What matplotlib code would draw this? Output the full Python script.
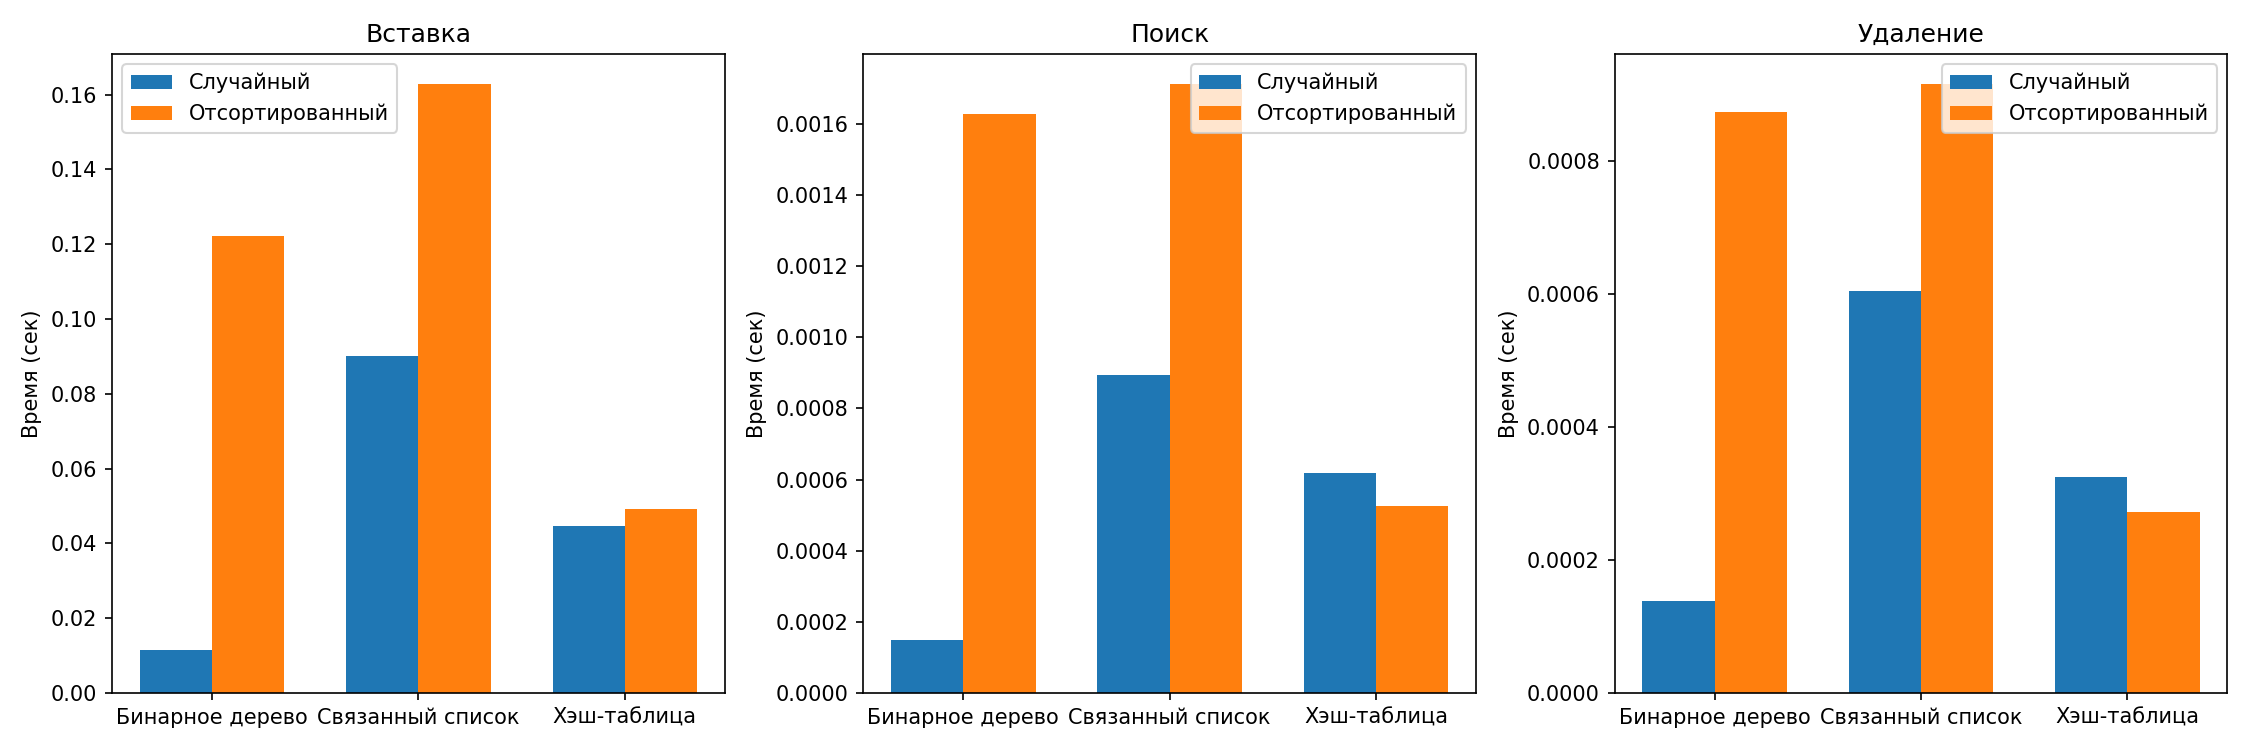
import numpy as np
import matplotlib
matplotlib.use("Agg")
import matplotlib.pyplot as plt

# Структуры данных и операции
structures = ["Бинарное дерево", "Связанный список", "Хэш-таблица"]
operations = ["Вставка", "Поиск", "Удаление"]

# Время (сек) для случайных данных
insert_random = [0.0115, 0.0900, 0.0445]
search_random = [0.000150, 0.000895, 0.000619]
delete_random = [0.000138, 0.000605, 0.000325]

# Время (сек) для отсортированных данных
insert_sorted = [0.1223, 0.1627, 0.0492]
search_sorted = [0.001629, 0.001711, 0.000526]
delete_sorted = [0.000874, 0.000916, 0.000272]

random_times = [insert_random, search_random, delete_random]
sorted_times = [insert_sorted, search_sorted, delete_sorted]

x = np.arange(len(structures))
width = 0.35

fig, axes = plt.subplots(1, 3, figsize=(15, 5), dpi=150)

for ax, op, rnd, srt in zip(axes, operations, random_times, sorted_times):
    ax.bar(x - width / 2, rnd, width, label="Случайный")
    ax.bar(x + width / 2, srt, width, label="Отсортированный")
    ax.set_title(op)
    ax.set_ylabel("Время (сек)")
    ax.set_xticks(x)
    ax.set_xticklabels(structures)
    ax.legend()

plt.tight_layout()
plt.savefig("out.png")
